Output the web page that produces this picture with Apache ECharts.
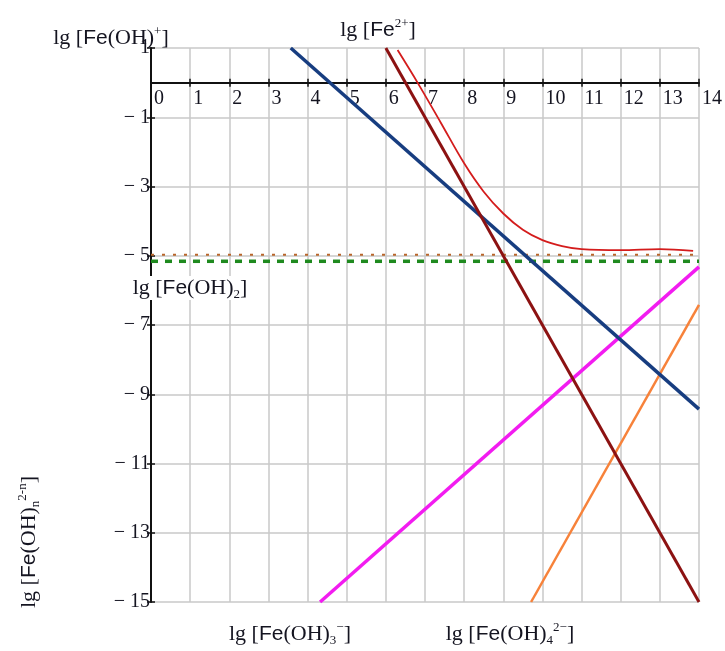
<!DOCTYPE html>
<html>
<head>
<meta charset="utf-8">
<script src="https://cdn.jsdelivr.net/npm/echarts@6/dist/echarts.min.js"></script>
<style>
html,body{margin:0;padding:0;background:#fff;}
#chart{width:725px;height:651px;}
</style>
</head>
<body>
<div id="chart"></div>
<script>
// ---- data ----
const xTickValues = [0,1,2,3,4,5,6,7,8,9,10,11,12,13,14];
const yTickValues = [-15,-13,-11,-9,-7,-5,-3,-1,1];
const feOHplus   = [[3.57, 1], [14, -9.43]];          // lg [Fe(OH)+]
const fe2plus    = [[6.0, 1], [14, -15]];              // lg [Fe2+]
const feTotal    = [[6.30, 0.94], [6.81, 0], [7.4, -1.15], [8.0, -2.33], [8.5, -3.15],
                    [9.0, -3.78], [9.5, -4.25], [10.0, -4.55], [10.5, -4.72], [11.0, -4.81],
                    [12.0, -4.84], [13.0, -4.81], [13.85, -4.86]];
const feOH3minus = [[4.32, -15], [14, -5.32]];         // lg [Fe(OH)3-]
const feOH4      = [[9.71, -15], [14, -6.42]];         // lg [Fe(OH)4 2-]
const feOH2aq    = [[0, -5.16], [14, -5.16]];          // lg [Fe(OH)2]
const limitLine  = [[0, -4.97], [14, -4.97]];

const serif = '"Liberation Serif", "DejaVu Serif", serif';
const sans = '"Liberation Sans", Arial, sans-serif';
const ink = '#141420';

const rich = {
  s:   {fontFamily: serif, fontSize: 22, fill: ink, lineHeight: 26, verticalAlign: 'middle'},
  f:   {fontFamily: sans,  fontSize: 21, fill: ink, lineHeight: 26, verticalAlign: 'middle'},
  sup: {fontFamily: serif, fontSize: 13, fill: ink, lineHeight: 26, verticalAlign: 'top'},
  sub: {fontFamily: serif, fontSize: 13, fill: ink, lineHeight: 26, verticalAlign: 'bottom'}
};
function label(text, x, y, extra) {
  return Object.assign({
    type: 'text', x: x, y: y, z: 100,
    style: {text: text, rich: rich, align: 'center', verticalAlign: 'middle', fill: ink}
  }, extra || {});
}

const GRID_TOP = 48, GRID_BOTTOM = 49, Y_MIN = -15, Y_MAX = 1;
const plotH = 651 - GRID_TOP - GRID_BOTTOM;
const zeroOffset = -plotH * (0 - Y_MIN) / (Y_MAX - Y_MIN); // lift x axis to y = 0

const chart = echarts.init(document.getElementById('chart'), null, {renderer: 'canvas'});
const axisFont = {fontFamily: serif, fontSize: 20, color: ink};

chart.setOption({
  backgroundColor: '#fff',
  animation: false,
  grid: {left: 151, right: 19, top: GRID_TOP, bottom: GRID_BOTTOM, containLabel: false},
  xAxis: [{
    type: 'value', min: 0, max: 14, interval: 1, position: 'bottom', offset: zeroOffset,
    axisLine: {onZero: false, lineStyle: {color: '#111', width: 2}},
    axisTick: {length: 4, lineStyle: {color: '#111', width: 1.5}},
    axisLabel: Object.assign({align: 'left', margin: 6, padding: [0,0,0,3],
      formatter: v => xTickValues.indexOf(v) >= 0 ? String(v) : ''}, axisFont),
    splitLine: {show: true, lineStyle: {color: '#c8c8c8', width: 1.5}}
  }, {
    type: 'value', min: 0, max: 14, interval: 1, position: 'bottom', offset: zeroOffset,
    axisLine: {onZero: false, show: false},
    axisTick: {inside: true, length: 4, lineStyle: {color: '#111', width: 1.5}},
    axisLabel: {show: false}, splitLine: {show: false}
  }],
  yAxis: [{
    type: 'value', min: Y_MIN, max: Y_MAX, interval: 2,
    axisLine: {show: true, onZero: false, lineStyle: {color: '#111', width: 2}},
    axisTick: {show: true, length: 4, lineStyle: {color: '#111', width: 1.5}},
    axisLabel: Object.assign({margin: 1,
      formatter: v => yTickValues.indexOf(v) < 0 ? '' : (v < 0 ? '\u2212 ' + (-v) : String(v))}, axisFont),
    splitLine: {show: true, lineStyle: {color: '#c8c8c8', width: 1.5}}
  }, {
    type: 'value', min: Y_MIN, max: Y_MAX, interval: 2, position: 'left',
    axisLine: {show: false, onZero: false},
    axisTick: {show: true, inside: true, length: 4, lineStyle: {color: '#111', width: 1.5}},
    axisLabel: {show: false}, splitLine: {show: false}
  }],
  series: [
    {type: 'line', data: limitLine, symbol: 'none', lineStyle: {color: '#b8652a', width: 2, type: [3, 8]}},
    {type: 'line', data: feOH2aq, symbol: 'none', lineStyle: {color: '#1f8a1f', width: 3.5, type: [7, 7]}},
    {type: 'line', data: feOH3minus, symbol: 'none', lineStyle: {color: '#f21cf0', width: 3.5}},
    {type: 'line', data: feOH4, symbol: 'none', lineStyle: {color: '#f7823a', width: 2.5}},
    {type: 'line', data: feOHplus, symbol: 'none', lineStyle: {color: '#173d80', width: 3.5}},
    {type: 'line', data: fe2plus, symbol: 'none', lineStyle: {color: '#8c1212', width: 3}},
    {type: 'line', data: feTotal, symbol: 'none', smooth: 0.35, lineStyle: {color: '#d41c1c', width: 1.8}}
  ],
  graphic: [
    {type: 'rect', z: 90, shape: {x: 128, y: 276, width: 126, height: 24}, style: {fill: '#fff'}},
    label('{s|lg [}{f|Fe}{s|(OH)}{sup|+}{s|]}', 111, 38),
    label('{s|lg [}{f|Fe}{sup|2+}{s|]}', 378, 30),
    label('{s|lg [}{f|Fe}{s|(OH)}{sub|2}{s|]}', 190, 288),
    label('{s|lg [}{f|Fe}{s|(OH)}{sub|3}{sup|\u2212}{s|]}', 290, 634),
    label('{s|lg [}{f|Fe}{s|(OH)}{sub|4}{sup|2\u2212}{s|]}', 510, 634),
    label('{s|lg [}{f|Fe}{s|(OH)}{sub|n}{sup|2-n}{s|]}', 29, 542, {rotation: Math.PI / 2})
  ]
});
</script>
</body>
</html>
